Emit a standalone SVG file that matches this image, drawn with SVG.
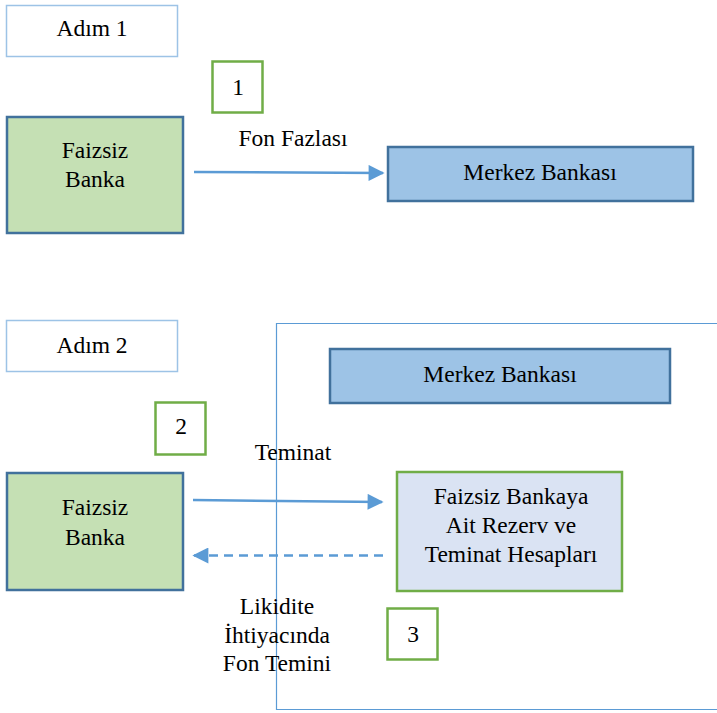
<svg xmlns="http://www.w3.org/2000/svg" width="717" height="713" viewBox="0 0 717 713" font-family="Liberation Serif, Times New Roman, DejaVu Serif, serif" font-size="23.5">
  <defs>
    <marker id="arrowBig" viewBox="0 0 10 10" refX="9" refY="5" markerWidth="17" markerHeight="16" markerUnits="userSpaceOnUse" orient="auto">
      <path d="M0,0 L10,5 L0,10 z" fill="#5b9bd5"/>
    </marker>
  </defs>
  <style>
    text { fill: #000; text-anchor: middle; }
    .step { fill: #fff; stroke: #9dc3e6; stroke-width: 1.5; }
    .num { fill: #fff; stroke: #70ad47; stroke-width: 2.5; }
    .bank { fill: #c5e0b4; stroke: #41719c; stroke-width: 2.5; }
    .central { fill: #9dc3e6; stroke: #41719c; stroke-width: 2.5; }
    .accounts { fill: #dae3f3; stroke: #70ad47; stroke-width: 2.5; }
    .frame { fill: none; stroke: #5b9bd5; stroke-width: 1.2; }
    .link { stroke: #5b9bd5; stroke-width: 2.5; fill: none; }
  </style>

  <rect width="717" height="713" fill="#fff"/>

  <!-- Step 1 -->
  <g id="step1-label">
    <rect class="step" x="6.5" y="5.5" width="171" height="51"/>
    <text x="92" y="36">Adım 1</text>
  </g>
  <g id="num1">
    <rect class="num" x="212.5" y="61.5" width="50" height="51"/>
    <text x="238" y="95">1</text>
  </g>
  <g id="bank1">
    <rect class="bank" x="7" y="117" width="176" height="116"/>
    <text x="95" y="158">Faizsiz</text>
    <text x="95" y="187">Banka</text>
  </g>
  <g id="central1">
    <rect class="central" x="388" y="147" width="305" height="54"/>
    <text x="540" y="180">Merkez Bankası</text>
  </g>
  <text id="label-fon-fazlasi" x="293" y="146">Fon Fazlası</text>

  <!-- Step 2 -->
  <g id="step2-label">
    <rect class="step" x="6.5" y="320.5" width="171" height="51"/>
    <text x="92" y="353">Adım 2</text>
  </g>
  <path id="frame" class="frame" d="M276.5,710 V323.5 H717 M276.5,709.5 H717"/>
  <g id="num2">
    <rect class="num" x="155.5" y="402.5" width="50" height="52"/>
    <text x="181" y="434">2</text>
  </g>
  <g id="central2">
    <rect class="central" x="330" y="349" width="340" height="54"/>
    <text x="500" y="382">Merkez Bankası</text>
  </g>
  <g id="bank2">
    <rect class="bank" x="7" y="473" width="176" height="117"/>
    <text x="95" y="515">Faizsiz</text>
    <text x="95" y="545">Banka</text>
  </g>
  <g id="accounts">
    <rect class="accounts" x="397" y="472" width="225" height="119"/>
    <text x="511" y="504">Faizsiz Bankaya</text>
    <text x="511" y="533">Ait Rezerv ve</text>
    <text x="511" y="562">Teminat Hesapları</text>
  </g>
  <g id="num3">
    <rect class="num" x="387.5" y="608.5" width="50" height="51"/>
    <text x="413" y="642">3</text>
  </g>
  <text id="label-teminat" x="293" y="460">Teminat</text>
  <g id="label-likidite">
    <text x="277" y="614">Likidite</text>
    <text x="277" y="643">İhtiyacında</text>
    <text x="277" y="671">Fon Temini</text>
  </g>

  <!-- Connectors -->
  <g id="connectors">
    <line class="link" x1="194" y1="172" x2="383" y2="173" marker-end="url(#arrowBig)"/>
    <line class="link" x1="193" y1="500" x2="382" y2="502" marker-end="url(#arrowBig)"/>
    <line class="link" x1="383" y1="555.5" x2="194" y2="555.5" stroke-dasharray="9,6" marker-end="url(#arrowBig)"/>
  </g>
</svg>
